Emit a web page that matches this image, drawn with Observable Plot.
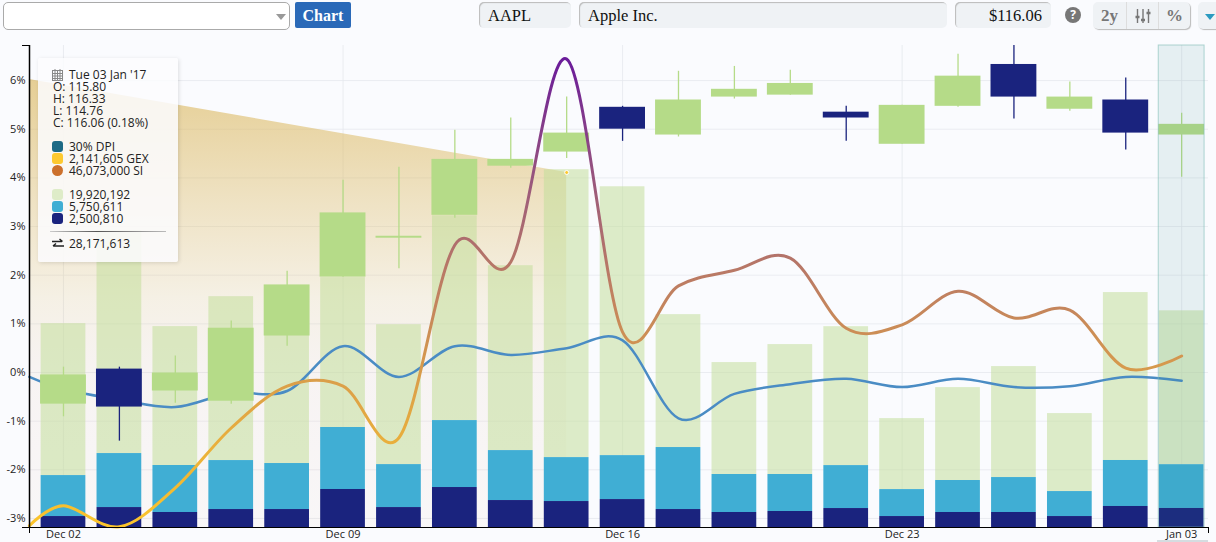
<!DOCTYPE html>
<html><head><meta charset="utf-8">
<script src="https://cdn.jsdelivr.net/npm/d3@7"></script>
<script src="https://cdn.jsdelivr.net/npm/@observablehq/plot@0.6"></script>
<style>
html,body{margin:0;padding:0;background:#fafbfe;width:1216px;height:542px;overflow:hidden;font-family:"Open Sans",sans-serif;color:#222}
#wrap{position:relative;width:1216px;height:542px}
#bar{position:relative;height:36px}
#bar>div{position:absolute;box-sizing:border-box}
.f{top:2px;height:26px;background:#eff2f5;border-radius:5px;box-shadow:inset 1px 1px 1px #bbb;font:16.5px "Liberation Serif",serif;color:#111;line-height:27px;padding:0 9px}
svg{display:block}
#leg{position:absolute;left:38px;top:58px;width:140px;height:204px;background:rgba(252,252,254,.86);border-radius:2px;box-shadow:1px 1px 4px rgba(0,0,0,.12);font-size:12px;line-height:12px}
#leg div{position:absolute;left:31px;white-space:nowrap}
#leg i{position:absolute;left:14px;width:11px;height:11px;border-radius:3px}
</style></head><body>
<div id="wrap">
<div id="bar">
 <div style="left:3px;top:2px;width:287px;height:28px;background:#fff;border:1px solid #aaa;border-radius:5px"></div>
 <div style="left:276px;top:14px;width:0;height:0;border:5px solid transparent;border-top:6px solid #999;"></div>
 <div style="left:295px;top:2px;width:56px;height:26px;background:#2a69b8;color:#fff;border-radius:2px;font:bold 16px 'Liberation Serif',serif;line-height:27px;text-align:center">Chart</div>
 <div class="f" style="left:479px;width:92px">AAPL</div>
 <div class="f" style="left:579px;width:368px">Apple Inc.</div>
 <div class="f" style="left:955px;width:96px;text-align:right">$116.06</div>
 <div style="left:1065px;top:7px;width:16px;height:16px;border-radius:50%;background:#777;color:#fff;font:bold 12px 'Open Sans';line-height:16px;text-align:center">?</div>
 <div style="left:1093px;top:2px;width:97px;height:27px;background:#eff2f5;border-radius:5px;box-shadow:1px 1px 1px #bbb"></div>
 <div style="left:1093px;top:2px;width:34px;height:27px;font:bold 17px 'Liberation Serif',serif;color:#777;line-height:28px;text-align:center;border-right:1px solid #ddd">2y</div>
 <div style="left:1127px;top:2px;width:32px;height:27px;border-right:1px solid #ddd">
  <svg width="32" height="27"><g stroke="#777" stroke-width="1.4"><path d="M10.500 7v14M16 7v14M21.500 7v14"/><path d="M8.500 15h4M14 18h4M19.500 11h4" stroke-width="2.500"/></g></svg>
 </div>
 <div style="left:1159px;top:2px;width:31px;height:27px;font:bold 17px 'Liberation Serif',serif;color:#777;line-height:28px;text-align:center">%</div>
 <div style="left:1198px;top:2px;width:18px;height:27px;background:#eff2f5;border-radius:5px 0 0 5px;box-shadow:1px 1px 1px #bbb"></div>
 <div style="left:1205px;top:14px;width:0;height:0;border:5px solid transparent;border-top:6px solid #2b9ac0"></div>
</div>
<div id="chart"></div>
<div style="position:absolute;left:1157px;top:540px;width:51px;height:2px;background:#d5dce0"></div>
<div id="leg">
 <svg style="position:absolute;left:14px;top:11px" width="11" height="12"><g fill="none" stroke="#888"><rect x=".5" y="1.500" width="10" height="10"/><path d="M.5 4.500h10M.5 7h10M.5 9.500h10M3 0v11.500M5.500 1.500v10M8 0v11.500"/></g></svg>
 <div style="top:11px">Tue 03 Jan '17</div>
 <div style="top:23px;left:15px">O: 115.80</div>
 <div style="top:35px;left:15px">H: 116.33</div>
 <div style="top:47px;left:15px">L: 114.76</div>
 <div style="top:59px;left:15px">C: 116.06 (0.18%)</div>
 <i style="top:83px;background:#1d6a85"></i><div style="top:83px">30% DPI</div>
 <i style="top:95px;background:#fdc92f"></i><div style="top:95px">2,141,605 GEX</div>
 <i style="top:107px;border-radius:50%;background:#cc702c"></i><div style="top:107px">46,073,000 SI</div>
 <i style="top:131px;background:#deecc8"></i><div style="top:131px">19,920,192</div>
 <i style="top:143px;background:#40aed4"></i><div style="top:143px">5,750,611</div>
 <i style="top:155px;background:#1a237e"></i><div style="top:155px">2,500,810</div>
 <div style="left:12px;top:173px;width:116px;height:1px;background:linear-gradient(90deg,#ccc,#555 40%,#bbb)"></div>
 <svg style="position:absolute;left:14px;top:180px" width="12" height="11"><g fill="none" stroke="#222" stroke-width="1.500"><path d="M0 3.500h10M7.500 1l3 2.500M12 8h-11M4 5.500l-3 2.500"/></g></svg>
 <div style="top:180px">28,171,613</div>
</div>
</div>
<script>
// Trading days: index -1 is the partly visible session at the left edge.
const sessions = [-1,0,1,2,3,4,5,6,7,8,9,10,11,12,13,14,15,16,17,18,19,20];
const dates = ["Dec 01","Dec 02","Dec 05","Dec 06","Dec 07","Dec 08","Dec 09","Dec 12","Dec 13","Dec 14","Dec 15","Dec 16","Dec 19","Dec 20","Dec 21","Dec 22","Dec 23","Dec 27","Dec 28","Dec 29","Dec 30","Jan 03"];
// Candles, % change
const open  = [0.36,-0.65,0.07,-0.38,-0.59,0.75,1.96,2.76,3.23,4.24,4.53,5.45,4.88,5.66,5.70,5.35,4.69,5.47,6.33,5.41,5.60,4.88];
const close = [-0.40,-0.05,-0.71,-0.01,0.91,1.80,3.28,2.80,4.38,4.38,4.92,5.00,5.60,5.82,5.94,5.23,5.49,6.09,5.66,5.66,4.92,5.10];
const high  = [0.36,0.11,0.11,0.34,1.06,2.08,3.95,4.22,4.98,5.23,5.66,5.47,6.19,6.29,6.21,5.47,5.49,6.54,6.72,5.97,6.05,5.33];
const low   = [-0.40,-0.91,-1.41,-0.63,-0.65,0.54,1.96,2.13,3.17,4.20,4.40,4.75,4.84,5.62,5.70,4.75,4.69,5.45,5.21,5.37,4.57,4.01];
// Volume, millions of shares
const volNavy  = [3.54,1.44,2.62,1.97,2.36,2.36,4.99,2.62,5.25,3.54,3.41,3.67,2.36,1.97,2.10,2.49,1.44,1.97,1.97,1.44,2.76,2.50];
const volBlue  = [7.48,5.38,7.09,6.17,6.43,6.04,8.14,5.64,8.79,6.56,5.77,5.77,8.14,4.99,4.86,5.64,3.54,4.20,4.59,3.28,6.04,5.75];
const volLight = [26.2,19.95,29.3,18.24,21.52,23.36,19.69,18.37,26.9,24.28,37.8,35.3,17.45,14.7,17.06,18.24,9.32,12.2,14.57,10.24,22.05,20.2];
// Lines: first value is at the left edge of the frame
const lineX = [-0.61,0,1,2,3,4,5,6,7,8,9,10,11,12,13,14,15,16,17,18,19,20];
const dpi = [-0.09,-0.34,-0.56,-0.71,-0.42,-0.38,0.54,-0.09,0.54,0.36,0.50,0.66,-0.94,-0.44,-0.24,-0.13,-0.30,-0.13,-0.30,-0.28,-0.09,-0.17];
const gex = [-3.15,-2.74,-3.17,-2.37,-1.14,-0.28,-0.28,-1.34,2.62,2.27,6.44,0.83,1.78,2.10,2.35,0.91,0.98,1.67,1.12,1.28,0.09,0.34];
// Short-interest area
const siX = [-0.61,9];
const siY = [6.02,4.11];

const yMin = -3.185, yMax = 6.72, xMin = -0.608, xMax = 20.48;
const volToAxis = v => yMin + v * 0.1565;   // volume shares the frame, on its own scale
const rows = sessions.map((s,i)=>({s,o:open[i],c:close[i],h:high[i],l:low[i],
  n:volToAxis(volNavy[i]),b:volToAxis(volNavy[i]+volBlue[i]),t:volToAxis(volNavy[i]+volBlue[i]+volLight[i])}));
const dpiRows = lineX.map((x,i)=>({x,y:dpi[i]}));
const gexRows = lineX.map((x,i)=>({x,y:gex[i]}));
const siRows = siX.map((x,i)=>({x,y:siY[i]}));
const hw = 0.4, cw = 0.41, NAVY="#1a237e", GREEN="#b5db88";

const defs = () => {
  const d = d3.create("svg:defs");
  const a = d.append("linearGradient").attr("id","siGrad").attr("x1",0).attr("x2",0).attr("y1",0).attr("y2",1);
  [[0,"#dcb962",.68],[.27,"#dcb962",.38],[.49,"#dcb962",.16],[.67,"#e0b090",.1],[1,"#e0b090",.06]].forEach(([o,c,p])=>a.append("stop").attr("offset",o).attr("stop-color",c).attr("stop-opacity",p));
  const g = d.append("linearGradient").attr("id","gexGrad").attr("x1",0).attr("x2",0).attr("y1",0).attr("y2",1);
  [[0,"#6a1b9a"],[.3,"#a05f78"],[.5,"#c08060"],[.7,"#dca048"],[1,"#fcc52a"]].forEach(([o,c])=>g.append("stop").attr("offset",o).attr("stop-color",c));
  return d.node();
};

const plot = Plot.plot({
  width:1216,height:506,marginLeft:29,marginRight:8,marginTop:9,marginBottom:15,
  style:{background:"transparent",fontFamily:"'Open Sans',sans-serif",fontSize:"11px",color:"#222"},
  x:{type:"linear",domain:[xMin,xMax]},
  y:{type:"linear",domain:[yMin,yMax]},
  marks:[
    defs,
    Plot.gridY(d3.range(-3,7),{stroke:"#e6e8ee",strokeOpacity:.8}),
    Plot.gridX([0,5,10,15,20],{stroke:"#e6e8ee",strokeOpacity:.8}),
    Plot.areaY(siRows,{x:"x",y1:yMin,y2:"y",fill:"url(#siGrad)"}),
    Plot.rectY(rows,{x1:d=>d.s-hw,x2:d=>d.s+hw,y1:"b",y2:"t",fill:"#c3df9a",fillOpacity:.55,clip:true}),
    Plot.rectY(rows,{x1:d=>d.s-hw,x2:d=>d.s+hw,y1:"n",y2:"b",fill:"#40aed4",clip:true}),
    Plot.rectY(rows,{x1:d=>d.s-hw,x2:d=>d.s+hw,y1:yMin,y2:"n",fill:NAVY,clip:true}),
    Plot.lineY(dpiRows,{x:"x",y:"y",stroke:"#4a8cc4",strokeWidth:2.5,curve:"cardinal"}),
    Plot.ruleX(rows,{x:"s",y1:"l",y2:"h",stroke:d=>d.c>=d.o?GREEN:NAVY,strokeWidth:1.3,clip:true}),
    Plot.rectY(rows,{x1:d=>d.s-cw,x2:d=>d.s+cw,y1:"o",y2:"c",fill:d=>d.c>=d.o?GREEN:NAVY,clip:true}),
    Plot.rect([20],{x1:d=>d-cw,x2:d=>d+cw,y1:yMin,y2:yMax,fill:"#2e8b8b",fillOpacity:.1,stroke:"#7fbcb6",strokeOpacity:.6}),
    Plot.lineY(gexRows,{x:"x",y:"y",stroke:"url(#gexGrad)",strokeWidth:3,curve:"cardinal"}),
    Plot.dot(siRows.slice(1),{x:"x",y:"y",r:2,fill:"#fdc92f",stroke:"#fff",strokeWidth:1}),
    Plot.axisY({ticks:d3.range(-3,7),tickSize:0,tickPadding:4,tickFormat:d=>d+"%",label:null}),
    Plot.axisY({ticks:[yMin,yMax],tickSize:7,tickFormat:()=>"",label:null,stroke:"#000",strokeOpacity:1}),
    Plot.axisX({ticks:[0,5,10,15,20],tickSize:0,tickPadding:3,tickFormat:i=>dates[sessions.indexOf(i)],label:null}),
    Plot.axisX({ticks:[xMin,xMax],tickSize:6,tickFormat:()=>"",label:null,stroke:"#000",strokeOpacity:1}),
    Plot.ruleX([xMin],{stroke:"#000",strokeWidth:1.5}),
    Plot.ruleY([yMin],{stroke:"#000"})
  ]
});
document.getElementById("chart").append(plot);
</script>
</body></html>
